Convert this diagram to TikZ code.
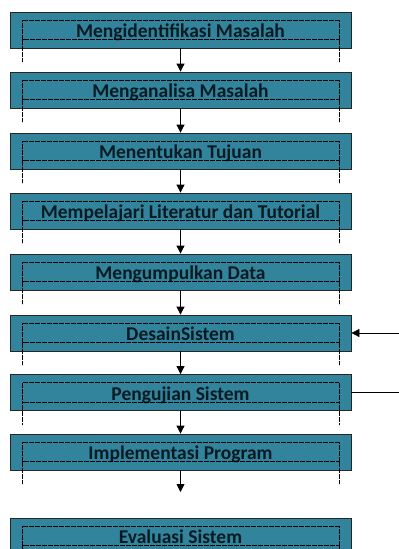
\documentclass[tikz,border=0pt]{standalone}
\usepackage{fontspec}
\setmainfont{Carlito}
\usepackage{xcolor}
\usepackage{tikz}
\usetikzlibrary{arrows.meta,positioning}
\definecolor{tealbox}{HTML}{31849B}
\definecolor{tekstua}{HTML}{0A1A22}

\begin{document}
\begin{tikzpicture}[x=1pt,y=-1pt,>={Triangle[length=8pt,width=8pt]},
 langkah/.style={draw=black!85,fill=tealbox,line width=0.8pt,minimum width=341pt,minimum height=36pt,inner sep=0pt,text height=15pt,text depth=0pt,text=tekstua,font=\bfseries\fontsize{19.5}{22}\selectfont},
 titik/.style={draw=black,line width=0.6pt,dash pattern=on 0.6pt off 0.6pt}]
\clip(0,0)rectangle(399,549);
\useasboundingbox(0,0)rectangle(399,549);
\node[langkah](b1)at(180.5,30){Mengidentifikasi Masalah};
\node[langkah](b2)at(180.5,90){Menganalisa Masalah};
\node[langkah](b3)at(180.5,151){Menentukan Tujuan};
\node[langkah](b4)at(180.5,211){Mempelajari Literatur dan Tutorial};
\node[langkah](b5)at(180.5,272){Mengumpulkan Data};
\node[langkah](b6)at(180.5,333){DesainSistem};
\node[langkah](b7)at(180.5,392.5){Pengujian Sistem};
\node[langkah](b8)at(180.5,452){Implementasi Program};
\node[langkah](b9)at(180.5,536){Evaluasi Sistem};
% garis titik-titik di dalam kotak
\foreach \b in {b1,b2,b3,b4,b5,b6,b7,b8,b9}{
\draw[titik]([xshift=13pt,yshift=-8.5pt]\b.north west)rectangle([xshift=-12pt,yshift=-28pt]\b.north east);
\draw[titik]([xshift=13pt,yshift=-28pt]\b.north west)--([xshift=13pt,yshift=-14pt]\b.south west);
\draw[titik]([xshift=-12pt,yshift=-28pt]\b.north east)--([xshift=-12pt,yshift=-14pt]\b.south east);
}
% panah
\draw[->,line width=0.8pt](b1)--(b2);
\draw[->,line width=0.8pt](b2)--(b3);
\draw[->,line width=0.8pt](b3)--(b4);
\draw[->,line width=0.8pt](b4)--(b5);
\draw[->,line width=0.8pt](b5)--(b6);
\draw[->,line width=0.8pt](b6)--(b7);
\draw[->,line width=0.8pt](b7)--(b8);
\coordinate(ujung)at(180.5,492);
\draw[->,line width=0.8pt](b8)--(ujung);
\coordinate(masuk)at(400,333);
\coordinate(keluar)at(400,392.5);
\draw[->,line width=0.8pt](masuk)--(b6);
\draw[line width=0.8pt](b7)--(keluar);
\end{tikzpicture}
\end{document}
